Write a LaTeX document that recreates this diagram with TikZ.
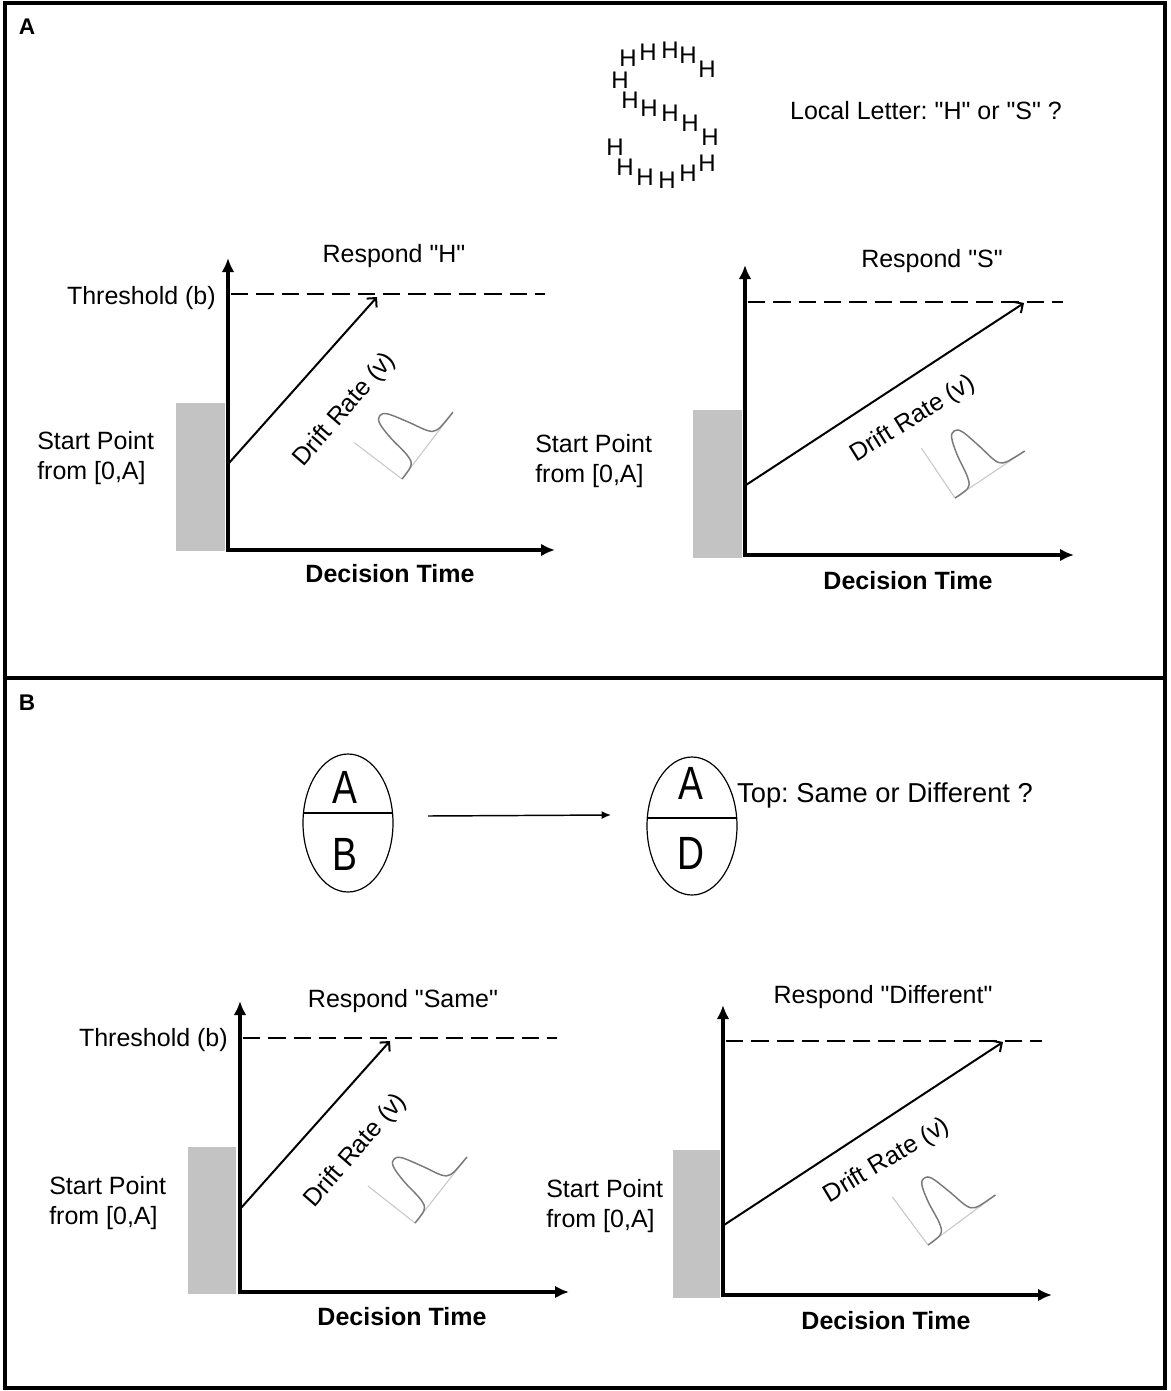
\documentclass[tikz,border=0pt]{standalone}
\usepackage{fontspec}
\setmainfont{Liberation Sans}[Ligatures=TeXOff]
\frenchspacing
\usetikzlibrary{arrows.meta,shapes.geometric}
\definecolor{boxgray}{HTML}{C3C3C3}
\definecolor{curvegray}{HTML}{7A7A7A}
\definecolor{axisgray}{HTML}{C8C8C8}
\begin{document}
\begin{tikzpicture}[x=0.75pt,y=-0.75pt,
  txt/.style={font=\fontsize{18.75}{23}\selectfont, inner sep=0pt},
  btxt/.style={font=\fontsize{18.75}{23}\selectfont\bfseries, inner sep=0pt},
  paneltxt/.style={font=\fontsize{17}{17}\selectfont\bfseries, inner sep=0pt},
  hletter/.style={font=\fontsize{18}{18}\selectfont, inner sep=0pt},
  bigletter/.style={font=\fontsize{35}{35}\selectfont, inner sep=0pt},
  axisarrow/.style={line width=3.5pt, -{Latex[length=10.5pt,width=9.5pt]}, shorten <=-1.75pt},
  driftarrow/.style={line width=1.5pt, -{Straight Barb[length=5pt,width=10pt]}},
  threshline/.style={line width=1.3pt, dash pattern=on 13pt off 6pt},
  startbox/.style={fill=boxgray, draw=none},
  ovalstim/.style={ellipse, draw, line width=0.9pt, minimum width=67.5pt, minimum height=103.5pt, inner sep=0pt},
  dens/.pic={
    \draw[axisgray, line width=0.8pt] (0,0) -- (84,0);
    \draw[axisgray, line width=0.8pt] (0,0) -- (0,-60);
    \draw[curvegray, line width=1.1pt] plot[smooth, tension=0.6] coordinates
      {(0,0) (16,-1) (22,-10) (26,-35) (31,-52) (37,-56) (43,-51) (49,-30) (54,-9) (60,-2) (70,-0.5) (84,0)};
  }
]
\useasboundingbox (0,0) rectangle (1170,1391);
\fill[white] (0,0) rectangle (1170,1391);

% frame
\draw[line width=2.5pt] (5,3) rectangle (1165,1388);
\draw[line width=2.5pt] (5,678) -- (1165,678);
\node[paneltxt] (labA) at (27,27) {A};
\node[paneltxt] (labB) at (27,703) {B};

% ===== Panel A: global S of local H =====
\foreach \px/\py [count=\i] in {628/58,648/52,670/50,688/55,707/69,620/80,630/100,649/108,670/113,690/123,710/137,615/147,625/167,645/177,667/180,688/173,707/163}
  \node[hletter] (h\i) at (\px,\py) {H};
\node[txt, anchor=base] (qA) at (926,120) {Local Letter: "H" or "S" ?};

% --- A left chart ---
\fill[startbox] (176,403) rectangle (225,551);
\coordinate (ALo) at (228,550);
\coordinate (ALy) at (228,258);
\coordinate (ALx) at (555,550);
\draw[axisarrow] (ALo) -- (ALy);
\draw[axisarrow] (ALo) -- (ALx);
\coordinate (ALt1) at (231,294);
\coordinate (ALt2) at (545,294);
\draw[threshline] (ALt1) -- (ALt2);
\coordinate (ALd1) at (229,463);
\coordinate (ALd2) at (377,297);
\draw[driftarrow] (ALd1) -- (ALd2);
\node[txt, rotate=49] (ALdr) at (345,410) {Drift Rate (v)};
\pic[rotate=52.7] at (402,479) {dens};
\node[txt, anchor=base east] (ALth) at (216,304) {Threshold (b)};
\node[txt, anchor=base] (ALresp) at (394,262) {Respond "H"};
\node[txt, anchor=base west] (ALs1) at (37,449) {Start Point};
\node[txt, anchor=base west] (ALs2) at (37,479) {from [0,A]};
\node[btxt, anchor=base] (ALdt) at (390,582) {Decision Time};

% --- A right chart ---
\fill[startbox] (693,410) rectangle (742,558);
\coordinate (ARo) at (745,555);
\coordinate (ARy) at (745,265);
\coordinate (ARx) at (1074,555);
\draw[axisarrow] (ARo) -- (ARy);
\draw[axisarrow] (ARo) -- (ARx);
\coordinate (ARt1) at (748,302);
\coordinate (ARt2) at (1063,302);
\draw[threshline] (ARt1) -- (ARt2);
\coordinate (ARd1) at (746,485);
\coordinate (ARd2) at (1024,303);
\draw[driftarrow] (ARd1) -- (ARd2);
\node[txt, rotate=32] (ARdr) at (913,419) {Drift Rate (v)};
\pic[rotate=34] at (955,498) {dens};
\node[txt, anchor=base] (ARresp) at (932,267) {Respond "S"};
\node[txt, anchor=base west] (ARs1) at (535,452) {Start Point};
\node[txt, anchor=base west] (ARs2) at (535,482) {from [0,A]};
\node[btxt, anchor=base] (ARdt) at (908,589) {Decision Time};

% ===== Panel B: same / different =====
\node[ovalstim] (E1) at (348,823) {};
\node[ovalstim] (E2) at (692,826) {};
\draw[line width=0.9pt] (303.5,813) -- (392.5,813);
\draw[line width=0.9pt] (647.3,818) -- (736.7,818);
\node[bigletter] (E1a) at (345,787) {\scalebox{0.8}[1]{A}};
\node[bigletter] (E1b) at (345,854) {\scalebox{0.8}[1]{B}};
\node[bigletter] (E2a) at (691,783) {\scalebox{0.8}[1]{A}};
\node[bigletter] (E2d) at (691,853) {\scalebox{0.8}[1]{D}};
\coordinate (seqS) at (428,816);
\coordinate (seqE) at (611,815);
\draw[line width=1.1pt, -{Latex[length=7pt,width=6pt]}] (seqS) -- (seqE);
\node[txt, anchor=base, font=\fontsize{20.5}{23}\selectfont] (qB) at (885,802) {Top: Same or Different ?};

% --- B left chart ---
\fill[startbox] (188,1147) rectangle (236,1294);
\coordinate (BLo) at (240,1292);
\coordinate (BLy) at (240,1001);
\coordinate (BLx) at (569,1292);
\draw[axisarrow] (BLo) -- (BLy);
\draw[axisarrow] (BLo) -- (BLx);
\coordinate (BLt1) at (243,1038);
\coordinate (BLt2) at (557,1038);
\draw[threshline] (BLt1) -- (BLt2);
\coordinate (BLd1) at (241,1208);
\coordinate (BLd2) at (390,1041);
\draw[driftarrow] (BLd1) -- (BLd2);
\node[txt, rotate=49] (BLdr) at (356,1151) {Drift Rate (v)};
\pic[rotate=51.8] at (415,1223) {dens};
\node[txt, anchor=base east] (BLth) at (228,1046) {Threshold (b)};
\node[txt, anchor=base] (BLresp) at (403,1007) {Respond "Same"};
\node[txt, anchor=base west] (BLs1) at (49,1194) {Start Point};
\node[txt, anchor=base west] (BLs2) at (49,1224) {from [0,A]};
\node[btxt, anchor=base] (BLdt) at (402,1325) {Decision Time};

% --- B right chart ---
\fill[startbox] (673,1150) rectangle (720,1298);
\coordinate (BRo) at (723,1295);
\coordinate (BRy) at (723,1005);
\coordinate (BRx) at (1052,1295);
\draw[axisarrow] (BRo) -- (BRy);
\draw[axisarrow] (BRo) -- (BRx);
\coordinate (BRt1) at (726,1041);
\coordinate (BRt2) at (1042,1041);
\draw[threshline] (BRt1) -- (BRt2);
\coordinate (BRd1) at (724,1225);
\coordinate (BRd2) at (1003,1042);
\draw[driftarrow] (BRd1) -- (BRd2);
\node[txt, rotate=31] (BRdr) at (887,1161) {Drift Rate (v)};
\pic[rotate=36.6] at (928,1245) {dens};
\node[txt, anchor=base] (BRresp) at (883,1003) {Respond "Different"};
\node[txt, anchor=base west] (BRs1) at (546,1197) {Start Point};
\node[txt, anchor=base west] (BRs2) at (546,1227) {from [0,A]};
\node[btxt, anchor=base] (BRdt) at (886,1329) {Decision Time};
\end{tikzpicture}
\end{document}
